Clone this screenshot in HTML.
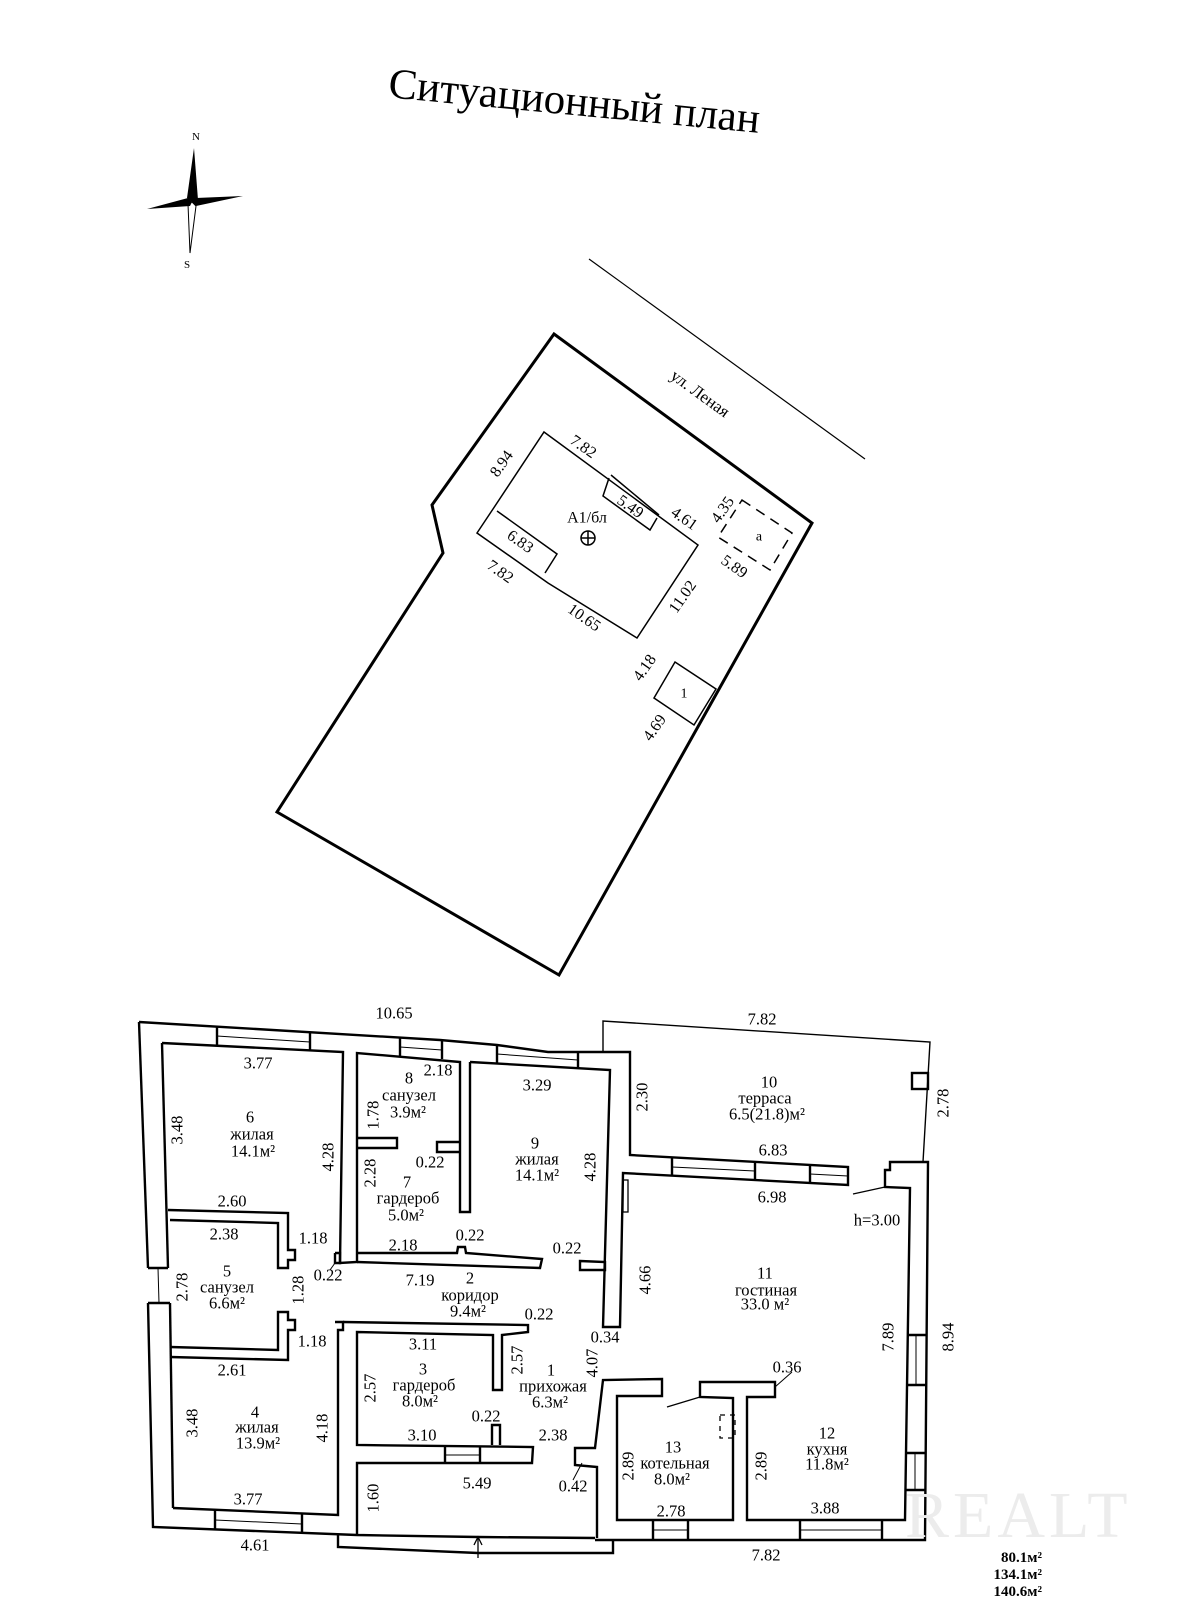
<!DOCTYPE html>
<html><head><meta charset="utf-8"><style>
html,body{margin:0;padding:0;background:#fff}
svg{display:block}
text{font-family:"Liberation Serif",serif;fill:#000}
</style></head><body>
<svg width="1200" height="1600" viewBox="0 0 1200 1600" xmlns="http://www.w3.org/2000/svg">
<rect width="1200" height="1600" fill="#fff"/>
<text x="573" y="115" font-size="43" text-anchor="middle" transform="rotate(5.5 573 115)">Ситуационный план</text>
<g>
<polygon points="194,148 198,200 192,202 187,198" fill="#000"/>
<polygon points="192,202 196,206 190,253 188,204" fill="#fff" stroke="#000" stroke-width="1"/>
<polygon points="147,209 188,198 192,202 190,206" fill="#000"/>
<polygon points="243,196 196,206 192,202 196,198" fill="#000"/>
<text x="196" y="140" font-size="11" text-anchor="middle">N</text>
<text x="187" y="268" font-size="11" text-anchor="middle">S</text>
</g>
<line x1="589" y1="259" x2="865" y2="459" stroke="#000" stroke-width="1.2"/>
<text x="697" y="398" font-size="17" text-anchor="middle" transform="rotate(36 697 398)">ул. Леная</text>
<polygon points="554,334 812,523 559,975 277,812 443,553 432,505" fill="none" stroke="#000" stroke-width="3"/>
<g fill="none" stroke="#000" stroke-width="1.5">
<polygon points="544,432 698,545 637,638 548,583 477,533 493,509"/>
<polyline points="497,511 557,554 545,573"/>
<polyline points="609,478 603,496 650,530 657,518"/>
<line x1="611" y1="475" x2="659" y2="515"/>
<polygon points="742,500 792,533 770,570 718,537" stroke-dasharray="10,7"/>
<polygon points="675,662 716,689 694,725 654,698"/>
<circle cx="588" cy="538" r="7"/>
<line x1="581" y1="538" x2="595" y2="538"/><line x1="588" y1="531" x2="588" y2="545"/>
</g>
<g font-size="16" text-anchor="middle" dominant-baseline="central">
<text x="583" y="447" transform="rotate(35 583 447)">7.82</text>
<text x="502" y="464" transform="rotate(-55 502 464)">8.94</text>
<text x="630" y="507" transform="rotate(35 630 507)">5.49</text>
<text x="684" y="519" transform="rotate(35 684 519)">4.61</text>
<text x="587" y="518">А1/бл</text>
<text x="520" y="542" transform="rotate(35 520 542)">6.83</text>
<text x="500" y="572" transform="rotate(35 500 572)">7.82</text>
<text x="584" y="618" transform="rotate(35 584 618)">10.65</text>
<text x="683" y="597" transform="rotate(-55 683 597)">11.02</text>
<text x="723" y="510" transform="rotate(-55 723 510)">4.35</text>
<text x="734" y="567" transform="rotate(35 734 567)">5.89</text>
<text x="759" y="537" font-size="14">а</text>
<text x="684" y="694" font-size="14">1</text>
<text x="645" y="668" transform="rotate(-55 645 668)">4.18</text>
<text x="655" y="728" transform="rotate(-55 655 728)">4.69</text>
</g>

<g fill="none" stroke="#000" stroke-width="2.4" stroke-linejoin="miter">
<polyline points="139,1022 440,1040 497,1045 548,1052 630,1052 630,1155 848,1167 848,1185 623,1173 620,1327 603,1327 610,1070 470,1062"/>
<polyline points="139,1022 148,1268"/>
<polyline points="148,1303 153,1527 357,1535 478,1537 595,1538"/>
<line x1="148" y1="1268" x2="168" y2="1268"/><line x1="148" y1="1303" x2="170" y2="1303"/>
<line x1="158" y1="1268" x2="159" y2="1303" stroke-width="1"/>
<polyline points="162,1043 343,1052 340,1263 357,1262 357,1053 460,1062 460,1212 470,1212 470,1062"/>
<line x1="162" y1="1043" x2="168" y2="1268"/>
<line x1="170" y1="1303" x2="173" y2="1508"/>
<line x1="217" y1="1026" x2="217" y2="1046"/><line x1="310" y1="1032" x2="310" y2="1051"/>
<line x1="217" y1="1036" x2="310" y2="1042" stroke-width="1"/>
<line x1="400" y1="1038" x2="400" y2="1056"/><line x1="442" y1="1040" x2="442" y2="1059"/>
<line x1="400" y1="1047" x2="442" y2="1050" stroke-width="1"/>
<line x1="497" y1="1045" x2="497" y2="1063"/><line x1="578" y1="1052" x2="578" y2="1068"/>
<line x1="497" y1="1054" x2="578" y2="1060" stroke-width="1"/>
<polyline points="358,1138 397,1138 397,1148 358,1148"/>
<polyline points="460,1142 437,1142 437,1152 460,1152"/>
<polyline points="168,1210 288,1213 288,1250 295,1250 295,1260 288,1260 288,1268 278,1268 278,1223 170,1220"/>
<polyline points="170,1347 278,1350 278,1312 288,1312 288,1320 295,1320 295,1330 288,1330 288,1360 170,1357"/>
<polyline points="357,1253 457,1253 458,1247 465,1247 466,1253 542,1259 540,1268 357,1262"/>
<polyline points="335,1253 340,1253 340,1263 335,1263 335,1253"/>
<polygon points="580,1261 605,1262 605,1270 580,1270"/>
<line x1="335" y1="1263" x2="330" y2="1270" stroke-width="1"/>
<polyline points="335,1322 343,1322 343,1330 338,1330 338,1515 173,1508"/>
<polyline points="343,1322 528,1325 528,1332 502,1335 502,1390 493,1390 493,1335 357,1332 357,1445 533,1447 532,1463 357,1463 357,1535"/>
<polyline points="492,1445 492,1425 500,1425 500,1445"/>
<line x1="445" y1="1446" x2="445" y2="1463"/><line x1="480" y1="1446" x2="480" y2="1463"/>
<line x1="445" y1="1455" x2="480" y2="1455" stroke-width="1"/>
<line x1="215" y1="1510" x2="215" y2="1530"/><line x1="302" y1="1513" x2="302" y2="1533"/>
<line x1="215" y1="1520" x2="302" y2="1524" stroke-width="1"/>
<polyline points="338,1535 338,1547 478,1553 613,1553 613,1540"/>
<line x1="478" y1="1558" x2="478" y2="1538" stroke-width="1.3"/>
<polyline points="474,1545 478,1537 482,1545" stroke-width="1.3"/>
<polyline points="597,1538 597,1467 575,1465 575,1448 595,1448 603,1380 662,1379 662,1396 617,1396 617,1520 733,1520 733,1398 700,1397 700,1382 775,1382 775,1397 747,1397 747,1520 905,1520 910,1188 885,1187 885,1170 890,1170 890,1162 928,1162 925,1540 595,1540"/>
<line x1="667" y1="1407" x2="700" y2="1397" stroke-width="1.3"/>
<line x1="573" y1="1480" x2="582" y2="1463" stroke-width="1"/>
<line x1="775" y1="1387" x2="792" y2="1372" stroke-width="1"/>
<line x1="653" y1="1520" x2="653" y2="1540"/><line x1="688" y1="1520" x2="688" y2="1540"/>
<line x1="653" y1="1530" x2="688" y2="1530" stroke-width="1"/>
<line x1="800" y1="1520" x2="800" y2="1540"/><line x1="882" y1="1520" x2="882" y2="1540"/>
<line x1="800" y1="1530" x2="882" y2="1530" stroke-width="1"/>
<line x1="907" y1="1335" x2="926" y2="1335"/><line x1="907" y1="1385" x2="926" y2="1385"/>
<line x1="916" y1="1335" x2="916" y2="1385" stroke-width="1"/>
<line x1="906" y1="1453" x2="925" y2="1453"/><line x1="906" y1="1490" x2="925" y2="1490"/>
<line x1="915" y1="1453" x2="915" y2="1490" stroke-width="1"/>
<line x1="672" y1="1158" x2="672" y2="1176"/><line x1="755" y1="1162" x2="755" y2="1180"/>
<line x1="810" y1="1165" x2="810" y2="1183"/>
<line x1="672" y1="1167" x2="755" y2="1171" stroke-width="1"/>
<line x1="810" y1="1174" x2="848" y2="1176" stroke-width="1"/>
<rect x="623" y="1180" width="5" height="32" stroke-width="1.3"/>
<line x1="853" y1="1194" x2="885" y2="1187" stroke-width="1.3"/>
<polyline points="603,1052 603,1021 930,1042 923,1162" stroke-width="1.4"/>
<rect x="912" y="1073" width="16" height="16"/>
<rect x="720" y="1415" width="15" height="23" stroke-width="1.3" stroke-dasharray="5,5"/>
</g>
<g font-size="16.5" text-anchor="middle" dominant-baseline="central">
<text x="394" y="1013">10.65</text>
<text x="762" y="1019">7.82</text>
<text x="258" y="1063">3.77</text>
<text x="177" y="1130" transform="rotate(-90 177 1130)">3.48</text>
<text x="250" y="1117">6</text><text x="252" y="1134">жилая</text><text x="253" y="1151">14.1м²</text>
<text x="328" y="1157" transform="rotate(-90 328 1157)">4.28</text>
<text x="232" y="1201">2.60</text>
<text x="224" y="1234">2.38</text>
<text x="313" y="1238">1.18</text>
<text x="328" y="1275">0.22</text>
<text x="227" y="1271">5</text><text x="227" y="1287">санузел</text><text x="227" y="1303">6.6м²</text>
<text x="182" y="1287" transform="rotate(-90 182 1287)">2.78</text>
<text x="298" y="1290" transform="rotate(-90 298 1290)">1.28</text>
<text x="409" y="1078">8</text><text x="409" y="1095">санузел</text><text x="408" y="1112">3.9м²</text>
<text x="438" y="1070">2.18</text>
<text x="373" y="1115" transform="rotate(-90 373 1115)">1.78</text>
<text x="430" y="1162">0.22</text>
<text x="370" y="1173" transform="rotate(-90 370 1173)">2.28</text>
<text x="407" y="1182">7</text><text x="408" y="1198">гардероб</text><text x="406" y="1215">5.0м²</text>
<text x="403" y="1245">2.18</text>
<text x="470" y="1235">0.22</text>
<text x="420" y="1280">7.19</text>
<text x="470" y="1278">2</text><text x="470" y="1295">коридор</text><text x="468" y="1311">9.4м²</text>
<text x="537" y="1085">3.29</text>
<text x="535" y="1143">9</text><text x="537" y="1159">жилая</text><text x="537" y="1175">14.1м²</text>
<text x="590" y="1167" transform="rotate(-90 590 1167)">4.28</text>
<text x="567" y="1248">0.22</text>
<text x="539" y="1314">0.22</text>
<text x="605" y="1337">0.34</text>
<text x="312" y="1341">1.18</text>
<text x="423" y="1344">3.11</text>
<text x="517" y="1360" transform="rotate(-90 517 1360)">2.57</text>
<text x="592" y="1363" transform="rotate(-90 592 1363)">4.07</text>
<text x="232" y="1370">2.61</text>
<text x="423" y="1369">3</text><text x="424" y="1385">гардероб</text><text x="420" y="1401">8.0м²</text>
<text x="551" y="1370">1</text><text x="553" y="1386">прихожая</text><text x="550" y="1402">6.3м²</text>
<text x="370" y="1388" transform="rotate(-90 370 1388)">2.57</text>
<text x="192" y="1423" transform="rotate(-90 192 1423)">3.48</text>
<text x="255" y="1412">4</text><text x="257" y="1427">жилая</text><text x="258" y="1443">13.9м²</text>
<text x="322" y="1428" transform="rotate(-90 322 1428)">4.18</text>
<text x="486" y="1416">0.22</text>
<text x="422" y="1435">3.10</text>
<text x="553" y="1435">2.38</text>
<text x="477" y="1483">5.49</text>
<text x="573" y="1486">0.42</text>
<text x="373" y="1498" transform="rotate(-90 373 1498)">1.60</text>
<text x="248" y="1499">3.77</text>
<text x="255" y="1545">4.61</text>
<text x="769" y="1082">10</text><text x="765" y="1098">терраса</text><text x="767" y="1114">6.5(21.8)м²</text>
<text x="642" y="1097" transform="rotate(-90 642 1097)">2.30</text>
<text x="943" y="1103" transform="rotate(-90 943 1103)">2.78</text>
<text x="773" y="1150">6.83</text>
<text x="772" y="1197">6.98</text>
<text x="877" y="1220">h=3.00</text>
<text x="645" y="1280" transform="rotate(-90 645 1280)">4.66</text>
<text x="765" y="1273">11</text><text x="766" y="1290">гостиная</text><text x="765" y="1304">33.0 м²</text>
<text x="888" y="1337" transform="rotate(-90 888 1337)">7.89</text>
<text x="948" y="1337" transform="rotate(-90 948 1337)">8.94</text>
<text x="787" y="1367">0.36</text>
<text x="827" y="1433">12</text><text x="827" y="1449">кухня</text><text x="827" y="1464">11.8м²</text>
<text x="673" y="1447">13</text><text x="675" y="1463">котельная</text><text x="672" y="1479">8.0м²</text>
<text x="628" y="1466" transform="rotate(-90 628 1466)">2.89</text>
<text x="761" y="1466" transform="rotate(-90 761 1466)">2.89</text>
<text x="671" y="1511">2.78</text>
<text x="825" y="1508">3.88</text>
<text x="766" y="1555">7.82</text>
</g>
<text x="905" y="1537" font-family="Liberation Sans, sans-serif" font-size="66" fill="#ececec" style="fill:#ececec" letter-spacing="4">REALT</text>
<g font-size="15" font-weight="bold" text-anchor="end">
<text x="1042" y="1562">80.1м²</text>
<text x="1042" y="1579">134.1м²</text>
<text x="1042" y="1596">140.6м²</text>
</g>
</svg>
</body></html>
